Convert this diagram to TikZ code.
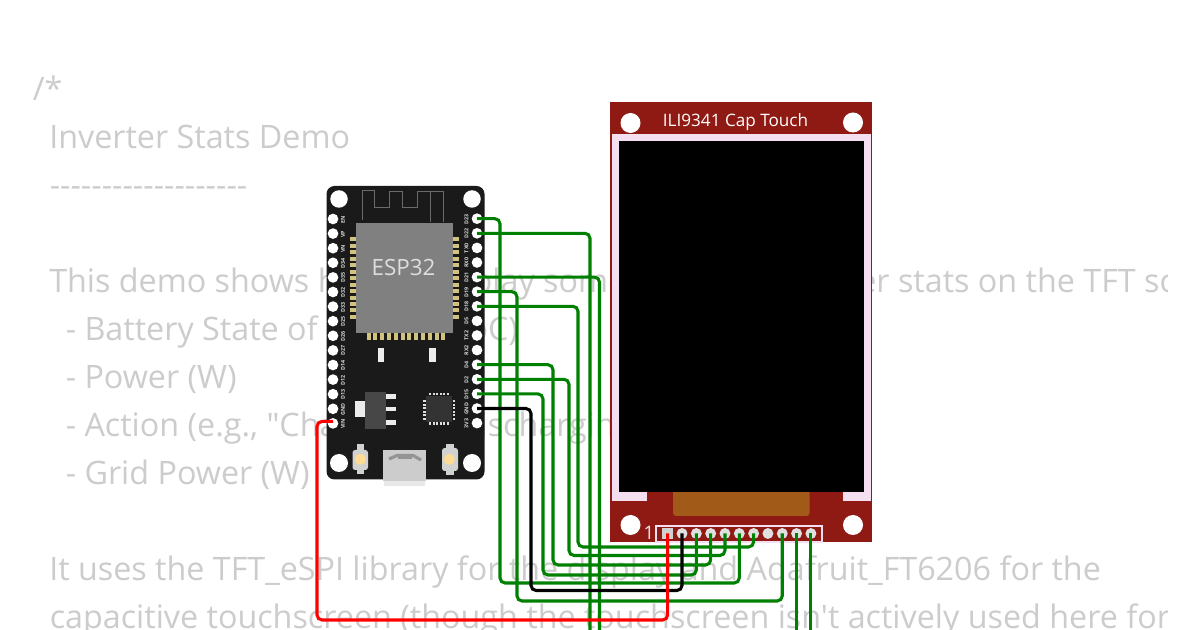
\documentclass[tikz,border=0pt]{standalone}
\usepackage{fontspec}
\newfontfamily\codefont{Open Sans}
\definecolor{pcbdark}{HTML}{1A1A1A}
\definecolor{tftred}{HTML}{8F1A13}
\definecolor{tftpink}{HTML}{F4DFF0}
\definecolor{tftorange}{HTML}{A15A18}
\definecolor{codegray}{HTML}{CCCCCC}
\definecolor{wiregreen}{HTML}{008000}
\definecolor{goldpad}{HTML}{D2C27F}
\definecolor{ledyellow}{HTML}{FDDB94}
\tikzset{
  codeline/.style={anchor=base west,inner sep=0pt,text=codegray,font=\codefont\fontsize{24.22pt}{24.22pt}\selectfont},
  hole/.style={circle,fill=white,inner sep=0pt,minimum size=#1*0.75pt},
  pinhole/.style={circle,fill=white,inner sep=0pt,minimum size=8pt},
  hdrpin/.style={circle,fill=#1,inner sep=0pt,minimum size=8.2pt},
  pinlabel/.style={rotate=90,inner sep=0pt,text=white!85!black,font=\codefont\bfseries\fontsize{4pt}{4pt}\selectfont},
  wire/.style={line width=2.3pt,rounded corners=3.8pt,wiregreen},
  antenna/.style={draw=black!58,line width=0.75pt},
  pad/.style={fill=goldpad},
  chipdot/.style={fill=black!13},
  switchbody/.style={fill=black!18},
}
\begin{document}
\begin{tikzpicture}[x=0.75pt,y=-0.75pt]
\fill[white] (0,0) rectangle (1200,630);
\useasboundingbox (0,0) rectangle (1200,630);
% background source text
\begin{scope}
\clip (0,0) rectangle (1167,630);
\node[codeline] (c1) at (32.5,100.5) {/*};
\node[codeline] (c2) at (49,148.5) {Inverter Stats Demo};
\node[codeline] (c3) at (49.5,196.5) {-------------------};
\node[codeline] (c5) at (49,292.5) {This demo shows how to display some example inverter stats on the TFT screen:};
\node[codeline] (c6) at (65.5,340.5) {- Battery State of Charge (SoC)};
\node[codeline] (c7) at (65.5,388.5) {- Power (W)};
\node[codeline] (c8) at (65.5,436.5) {- Action (e.g., "Charging", "Discharging")};
\node[codeline] (c9) at (65.5,484.5) {- Grid Power (W)};
\node[codeline] (c11) at (49,580.5) {It uses the TFT\_eSPI library for the display and Adafruit\_FT6206 for the};
\node[codeline] (c12) at (49.5,628.5) {capacitive touchscreen (though the touchscreen isn't actively used here for};
\end{scope}
% ESP32 board
\fill[pcbdark,rounded corners=6pt] (326.5,186) rectangle (484.5,479.5);
\node[hole=17.5] (hA) at (339,199) {};
\node[hole=17.5] (hB) at (472,199) {};
\node[hole=18] (hC) at (339,463) {};
\node[hole=18] (hD) at (472,463) {};
\draw[antenna] (362,220) -- (362,191) -- (374,191) -- (374,208) -- (389,208) -- (389,191.5) -- (402,191.5) -- (402,208) -- (417,208) -- (417,191.5) -- (443,191.5) -- (443,222);
\draw[antenna] (430,191.5) -- (430,222);
\foreach \i in {0,...,12}{
  \fill[pad] (350,{237.5+\i*6.45}) rectangle (356,{241.5+\i*6.45});
  \fill[pad] (453,{237.5+\i*6.45}) rectangle (459,{241.5+\i*6.45});
}
\foreach \i in {0,...,11}{
  \fill[pad] ({366.5+\i*6.8},333) rectangle ({370.5+\i*6.8},340);
}
\node[fill=black!50,inner sep=0pt,minimum width=72.75pt,minimum height=82.5pt] (chip) at (404.5,278) {};
\node[text=white!87!black,inner sep=0pt,font=\codefont\fontsize{16.8pt}{16.8pt}\selectfont] (chiplabel) at (403.5,268) {ESP32};
% small parts
\fill[black!7] (378,348) rectangle (384,362);
\fill[black!7] (429,348) rectangle (436,362);
\fill[black!72] (365,392) rectangle (386,429);
\fill[black!8] (355,401) rectangle (365,417);
\fill[black!8] (386,394) rectangle (396,399);
\fill[black!8] (386,407) rectangle (396,411.5);
\fill[black!8] (386,420) rectangle (396,425);
\fill[black!80] (426,396) rectangle (452,422);
\foreach \i in {0,...,5}{
  \fill[chipdot] ({429+\i*3.6},393) rectangle ({431+\i*3.6},395.5);
  \fill[chipdot] ({429+\i*3.6},422.5) rectangle ({431+\i*3.6},425);
  \fill[chipdot] (423,{400+\i*3.6}) rectangle (425.5,{402+\i*3.6});
  \fill[chipdot] (452.5,{400+\i*3.6}) rectangle (455,{402+\i*3.6});
}
% buttons
\fill[switchbody,rounded corners=2pt] (352.5,450) rectangle (368,470);
\fill[switchbody] (357,444.5) rectangle (364,450);
\fill[switchbody] (357,470) rectangle (364,474);
\fill[switchbody,rounded corners=2pt] (442,448) rectangle (458,471);
\fill[switchbody] (445.5,444) rectangle (454,448);
\fill[switchbody] (445.5,471) rectangle (454,475);
\fill[ledyellow] (360.3,459.3) circle (5.6);
\fill[ledyellow] (449.3,459.3) circle (5.6);
% USB
\fill[black!9] (384,480) rectangle (425,486);
\fill[black!20] (383,450) rectangle (426,481);
\draw[black!42,line width=2.4pt,line join=round] (389,459) -- (397,455.5) -- (413,455.5) -- (421,460);
\fill[black!42] (398,455) rectangle (412,459);
% ESP32 pins
\foreach \n/\lab [count=\k from 0] in {1/EN,2/VP,3/VN,4/D34,5/D35,6/D32,7/D33,8/D25,9/D26,10/D27,11/D14,12/D12,13/D13,14/GND,15/VIN}{
  \node[pinhole] (l\n) at (333,{219+\k*14.6}) {};
  \node[pinlabel] (ll\n) at (343,{219.5+\k*14.6}) {\lab};
}
\foreach \n/\lab [count=\k from 0] in {1/D23,2/D22,3/TX0,4/RX0,5/D21,6/D19,7/D18,8/D5,9/TX2,10/RX2,11/D4,12/D2,13/D15,14/GND,15/3V3}{
  \node[pinhole] (r\n) at (477,{218.7+\k*14.6}) {};
  \node[pinlabel] (rl\n) at (466.5,{219+\k*14.6}) {\lab};
}
% TFT
\fill[tftred] (610,102) rectangle (872,542.5);
\fill[tftpink] (611.5,134) rectangle (870.5,501);
\fill[tftred] (647,492) rectangle (843,501);
\fill[black] (619,141) rectangle (863.5,492);
\fill[tftorange,rounded corners=2.2pt] (673,485) rectangle (809.5,516);
\fill[black] (660,480) rectangle (820,492);
\node[hole=20] (tA) at (630.5,123) {};
\node[hole=20] (tB) at (853,122.5) {};
\node[hole=20] (tC) at (630.5,525) {};
\node[hole=20] (tD) at (853,525) {};
\node[text=white,inner sep=0pt,font=\codefont\fontsize{12.85pt}{12.85pt}\selectfont] (tftlabel) at (735.5,122) {ILI9341 Cap Touch};
\node[text=tftpink,inner sep=0pt,font=\codefont\fontsize{14pt}{14pt}\selectfont] (one) at (649,533) {1};
\node[draw=tftpink,line width=0.9pt,inner sep=0pt,minimum width=124.5pt,minimum height=12pt] (header) at (739,534) {};
\node[fill=black!18,inner sep=0pt,minimum size=8pt] (t1) at (667.7,533.5) {};
\foreach \n [count=\k from 1] in {2,...,11}{
  \node[hdrpin=black!12] (t\n) at ({667.7+\k*14.32},533.5) {};
}
% free wire ends
\coordinate (endA) at (590,630);
\coordinate (endB) at (599.5,630);
% wires
\draw[wire] (r1.center) -| (500,583) -| (t6.center);
\draw[wire] (r2.center) -| (endA);
\draw[wire] (r5.center) -| (endB);
\draw[wire] (r6.center) -| (517,601) -| (t9.center);
\draw[wire] (r7.center) -| (578,547) -| (t7.center);
\draw[wire] (r11.center) -| (553,565) -| (t4.center);
\draw[wire] (r12.center) -| (569,555.5) -| (t5.center);
\draw[wire] (r13.center) -| (543,575) -| (t3.center);
\draw[wire,black] (r14.center) -| (531,590.5) -| (t2.center);
\draw[wire,red] ([yshift=1.5pt]l15.center) -| (317,620) -| (t1.center);
\coordinate (endC) at (t10.center |- endA);
\coordinate (endD) at (t11.center |- endA);
\draw[wire] (t10.center) -- (endC);
\draw[wire] (t11.center) -- (endD);
\end{tikzpicture}
\end{document}
